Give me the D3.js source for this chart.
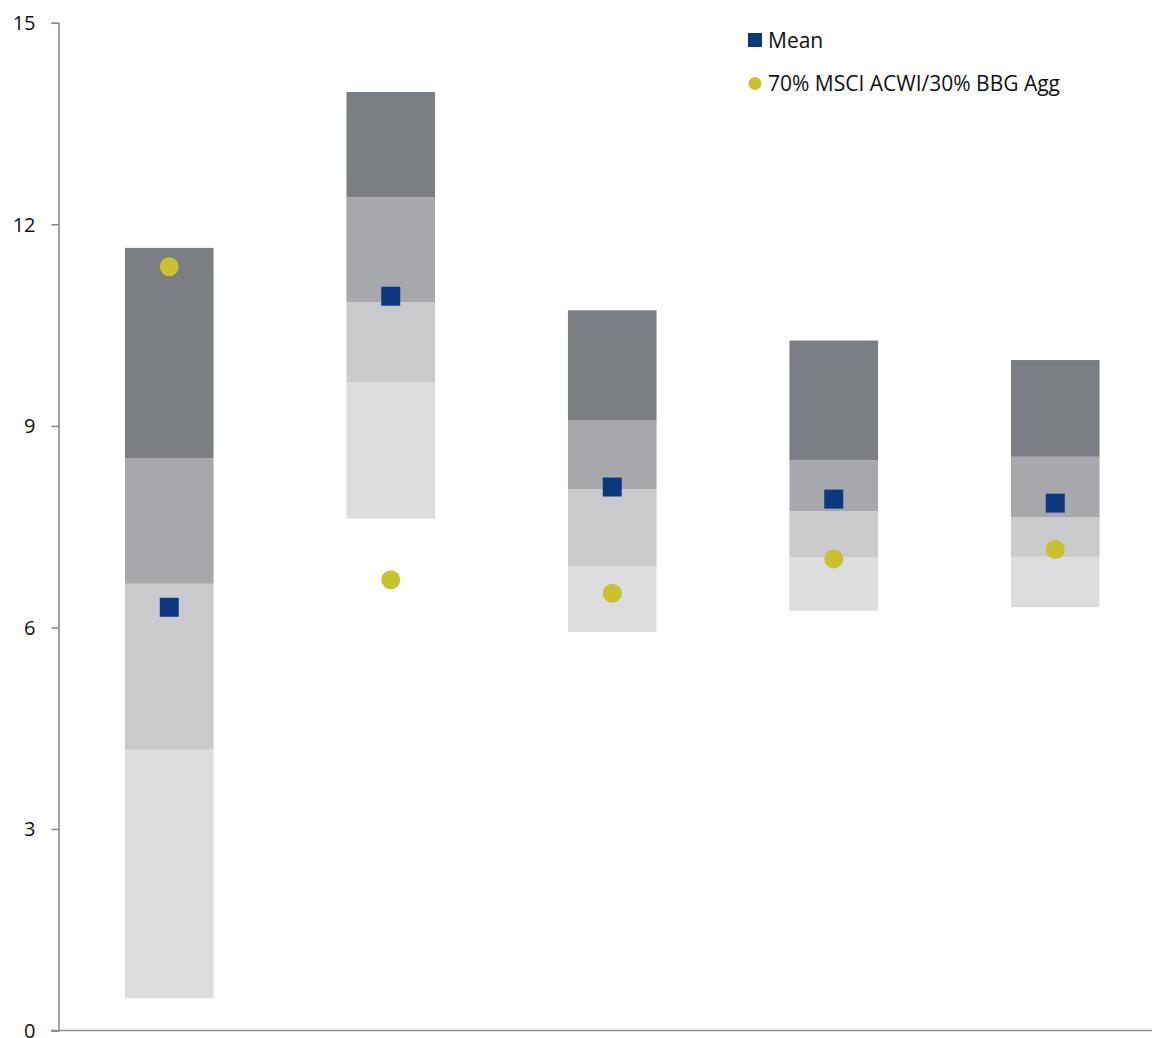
<!DOCTYPE html>
<html><head><meta charset="utf-8">
<script src="https://cdn.jsdelivr.net/npm/d3@7"></script>
<style>body{margin:0;background:#fff}svg{display:block}text{font-family:"Open Sans",sans-serif;fill:#111}</style>
</head><body>
<svg id="c" width="1152" height="1038"></svg>
<script>
const categories = ["A","B","C","D","E"];
const bandBottom = [0.48, 7.62, 5.93, 6.25, 6.30];
const band1 = [4.18, 9.65, 6.91, 7.04, 7.05];
const band2 = [6.65, 10.84, 8.06, 7.73, 7.64];
const band3 = [8.52, 12.40, 9.08, 8.49, 8.54];
const bandTop = [11.65, 13.97, 10.72, 10.27, 9.98];
const meanValues = [6.30, 10.93, 8.09, 7.91, 7.85];
const benchmarkValues = [11.37, 6.71, 6.51, 7.02, 7.16];
const yTicks = [0, 3, 6, 9, 12, 15];
const legendLabels = ["Mean", "70% MSCI ACWI/30% BBG Agg"];
const bandColors = ["#dcdddf", "#c9cacc", "#a7a8ab", "#7b7e82"];

const svg = d3.select("#c");
const x = d3.scaleBand().domain(categories).range([58.5, 1166]).paddingInner(0.6).paddingOuter(0.3);
const y = d3.scaleLinear().domain([0, 15]).range([1030.5, 22.8]);

const bounds = categories.map((c, i) => [bandBottom[i], band1[i], band2[i], band3[i], bandTop[i]]);
categories.forEach((c, i) => {
  for (let k = 0; k < 4; k++) {
    svg.append("rect")
      .attr("x", x(c)).attr("width", x.bandwidth())
      .attr("y", y(bounds[i][k + 1])).attr("height", y(bounds[i][k]) - y(bounds[i][k + 1]))
      .attr("fill", bandColors[k]);
  }
});

// axes
const yAxis = svg.append("g").attr("transform", "translate(58.5,0)")
  .call(d3.axisLeft(y).tickValues(yTicks).tickSize(7).tickPadding(16).tickFormat(d3.format("d")));
yAxis.select(".domain").attr("stroke", "#8c8c8c").attr("stroke-width", 1.6);
yAxis.selectAll(".tick line").attr("stroke", "#8c8c8c").attr("stroke-width", 1.6);
yAxis.selectAll(".tick text").style("font-size", "20px").attr("fill", "#111").attr("dy", "0.34em");

svg.append("line").attr("x1", 51).attr("x2", 1152).attr("y1", y(0)).attr("y2", y(0))
  .attr("stroke", "#8c8c8c").attr("stroke-width", 1.6);

// markers
const sq = 19;
svg.selectAll("rect.mean").data(meanValues).join("rect").attr("class", "mean")
  .attr("x", (d, i) => x(categories[i]) + x.bandwidth() / 2 - sq / 2)
  .attr("y", d => y(d) - sq / 2).attr("width", sq).attr("height", sq).attr("fill", "#0c3882");
svg.selectAll("circle.bm").data(benchmarkValues).join("circle").attr("class", "bm")
  .attr("cx", (d, i) => x(categories[i]) + x.bandwidth() / 2)
  .attr("cy", d => y(d)).attr("r", 9.5).attr("fill", "#c9c22c");

// legend
const lg = svg.append("g");
lg.append("rect").attr("x", 748).attr("y", 33).attr("width", 14).attr("height", 14).attr("fill", "#0c3882");
lg.append("text").attr("x", 768).attr("y", 47.5).style("font-size", "21px").text(legendLabels[0]);
lg.append("circle").attr("cx", 755).attr("cy", 83.5).attr("r", 6.5).attr("fill", "#c9c22c");
lg.append("text").attr("x", 768).attr("y", 91).style("font-size", "21px").text(legendLabels[1]);
</script>
</body></html>
